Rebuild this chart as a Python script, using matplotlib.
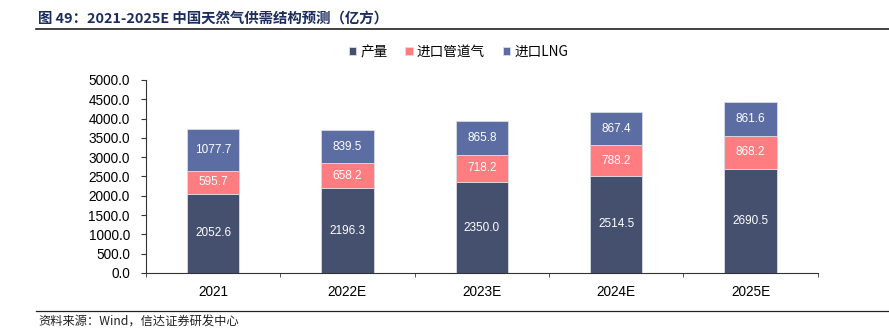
#coding:utf-8
import matplotlib
matplotlib.use('Agg')
import matplotlib.pyplot as plt
from matplotlib.lines import Line2D
import numpy as np

plt.rcParams['font.family'] = ['Liberation Sans', 'Noto Sans CJK SC', 'DejaVu Sans']

# 数据
years = ['2021', '2022E', '2023E', '2024E', '2025E']
production = [2052.6, 2196.3, 2350.0, 2514.5, 2690.5]
pipeline = [595.7, 658.2, 718.2, 788.2, 868.2]
lng = [1077.7, 839.5, 865.8, 867.4, 861.6]
series_names = ['产量', '进口管道气', '进口LNG']
colors = ['#454F6E', '#FF7C80', '#5B6DA3']
yticks = np.arange(0, 5001, 500)

fig = plt.figure(figsize=(8.89, 3.36), dpi=100)
ax = fig.add_axes([0.164, 0.1875, 0.756, 0.5745])

x = np.arange(len(years))
w = 0.39
bottom = np.zeros(len(years))
for vals, name, c in zip([production, pipeline, lng], series_names, colors):
    vals = np.array(vals)
    ax.bar(x, vals, w, bottom=bottom, color=c, label=name,
           edgecolor='#D9DCE6', linewidth=0.6)
    for xi, b, v in zip(x, bottom, vals):
        ax.text(xi, b + v / 2, '%.1f' % v, ha='center', va='center',
                color='white', fontsize=8.5)
    bottom = bottom + vals

ax.set_xlim(-0.5, len(years) - 0.5)
ax.set_ylim(0, 5000)
ax.set_yticks(yticks)
ax.set_yticklabels(['%.1f' % v for v in yticks], fontsize=9.8)
ax.set_xticks(x)
ax.set_xticklabels(years, fontsize=9.8)
ax.set_xticks(np.arange(-0.5, len(years)), minor=True)
ax.tick_params(axis='x', which='major', length=0, pad=9)
ax.tick_params(axis='x', which='minor', length=3, direction='out', color='#333333')
ax.tick_params(axis='y', length=3.5, direction='out', color='#333333', pad=8)
for s in ['top', 'right']:
    ax.spines[s].set_visible(False)
for s in ['left', 'bottom']:
    ax.spines[s].set_color('#333333')
    ax.spines[s].set_linewidth(0.8)

# 图例
ax.legend(loc='lower center', bbox_to_anchor=(0.465, 1.045), ncol=3, frameon=False,
          prop={'family': 'Noto Sans CJK SC', 'size': 9.8},
          handlelength=0.55, handleheight=0.55, handletextpad=0.3, columnspacing=1.3)

# 标题与来源
fig.text(0.043, 0.945, '图 49：2021-2025E 中国天然气供需结构预测（亿方）',
         fontsize=10.4, fontweight='bold', color='#1B2D5E',
         family=['Noto Sans CJK SC', 'DejaVu Sans'], va='center')
fig.add_artist(Line2D([0.04, 1.0], [0.915, 0.915], color='#222222', linewidth=1.2))
fig.add_artist(Line2D([0.04, 1.0], [0.075, 0.075], color='#222222', linewidth=0.9))
fig.text(0.043, 0.04, '资料来源：Wind，信达证券研发中心', fontsize=8.8,
         color='#222222', family=['Noto Sans CJK SC', 'DejaVu Sans'], va='center',
         style='italic')

plt.savefig('out.png', dpi=100)
